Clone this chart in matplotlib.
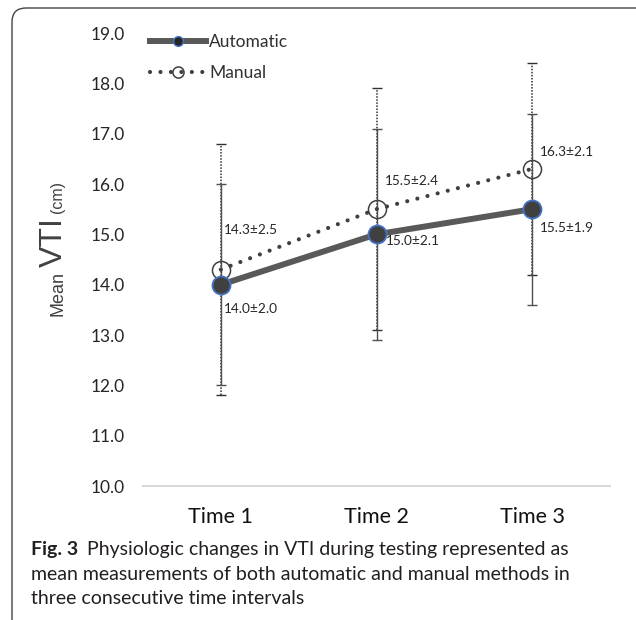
import matplotlib.pyplot as plt
from matplotlib.lines import Line2D
from matplotlib.patches import FancyBboxPatch
from matplotlib.transforms import IdentityTransform

# * - - - Data
categories = ["Time 1", "Time 2", "Time 3"]
y_ticks = [10.0, 11.0, 12.0, 13.0, 14.0, 15.0, 16.0, 17.0, 18.0, 19.0]

auto_mean = [14.0, 15.0, 15.5]
auto_sd = [2.0, 2.1, 1.9]
manual_mean = [14.3, 15.5, 16.3]
manual_sd = [2.5, 2.4, 2.1]

auto_labels = ["14.0±2.0", "15.0±2.1", "15.5±1.9"]
manual_labels = ["14.3±2.5", "15.5±2.4", "16.3±2.1"]

caption_lines = [
    "Physiologic changes in VTI during testing represented as",
    "mean measurements of both automatic and manual methods in",
    "three consecutive time intervals",
]

# * - - - Styles
W, H = 636, 620
dark = "#404040"
line_grey = "#595959"
blue_edge = "#4472C4"
chart_font = "Lato"

# label offsets in pixels (dx, dy) from each point
auto_offsets = [(3, -24), (9, -7), (8, -19)]
manual_offsets = [(3, 40), (8, 28), (8, 17)]

fig = plt.figure(figsize=(W / 100, H / 100), dpi=100)
ax = fig.add_axes([143 / W, 1 - 486 / H, (610 - 143) / W, (486 - 33) / H])

x = list(range(len(categories)))

# * - - - Error bars (drawn first so they sit behind)
eb_m = ax.errorbar(x, manual_mean, yerr=manual_sd, fmt="none", ecolor="#303030",
                   elinewidth=1.1, capsize=3.5, capthick=1.0, zorder=2)
eb_m[2][0].set_linestyle((0, (1, 1)))
ax.errorbar(x, auto_mean, yerr=auto_sd, fmt="none", ecolor="#505050",
            elinewidth=1.0, capsize=3.5, capthick=1.0, zorder=2)

# * - - - Series lines
ax.plot(x, manual_mean, color=dark, linewidth=3.0, linestyle=(0, (0.01, 2.5)),
        dash_capstyle="round", marker="o", markersize=13, markerfacecolor="none",
        markeredgecolor=dark, markeredgewidth=1.1, zorder=3)
ax.plot(x, auto_mean, color=line_grey, linewidth=4.3, solid_capstyle="round",
        marker="o", markersize=13, markerfacecolor=dark,
        markeredgecolor=blue_edge, markeredgewidth=1.3, zorder=4)

# * - - - Data labels
for xi, yi, txt, off in zip(x, auto_mean, auto_labels, auto_offsets):
    ax.annotate(txt, (xi, yi), xytext=off, textcoords="offset pixels",
                ha="left", va="center", fontsize=9.8, color="#262626",
                family=chart_font, zorder=5)
for xi, yi, txt, off in zip(x, manual_mean, manual_labels, manual_offsets):
    ax.annotate(txt, (xi, yi), xytext=off, textcoords="offset pixels",
                ha="left", va="center", fontsize=9.8, color="#262626",
                family=chart_font, zorder=5)

# * - - - Axes look
ax.set_xlim(-0.5, 2.5)
ax.set_ylim(10, 19)
ax.set_yticks(y_ticks)
ax.set_yticklabels([f"{v:.1f}" for v in y_ticks], family=chart_font,
                   fontsize=12.5, color="#262626")
ax.set_xticks(x)
ax.set_xticklabels(categories, family=chart_font, fontsize=15.5, color="#111111")
ax.tick_params(axis="y", length=0, pad=13)
ax.tick_params(axis="x", length=0, pad=15)
for side in ["left", "right", "top"]:
    ax.spines[side].set_visible(False)
ax.spines["bottom"].set_color("#d9d9d9")
ax.spines["bottom"].set_linewidth(1.5)

# * - - - Legend
handles = [
    Line2D([], [], color=line_grey, linewidth=4.3, marker="o", markersize=7,
           markerfacecolor="#262626", markeredgecolor=blue_edge, markeredgewidth=1.0),
    Line2D([], [], color=dark, linewidth=3.0, linestyle=(0, (0.01, 2.5)),
           dash_capstyle="round", marker="o", markersize=8, markerfacecolor="none",
           markeredgecolor=dark, markeredgewidth=1.1),
]
ax.legend(handles, ["Automatic", "Manual"], loc="upper left",
          bbox_to_anchor=(150 / W, 1 - 34 / H), bbox_transform=fig.transFigure,
          frameon=False, borderpad=0, borderaxespad=0, handlelength=3.2,
          handletextpad=0.2, labelspacing=0.85,
          prop={"family": chart_font, "size": 12.5}, labelcolor="#303030")

# * - - - Y axis title with a bigger "VTI"
fig.canvas.draw()
r = fig.canvas.get_renderer()
base_x = 62
y0 = H - 316
parts = [("Mean", 13), ("VTI", 23), ("(cm)", 11.5)]
for word, size in parts:
    t = fig.text(base_x, y0, word, transform=IdentityTransform(), rotation=90,
                 rotation_mode="anchor", ha="left", va="baseline",
                 fontsize=size, family="Liberation Sans", color="#404040")
    bb = t.get_window_extent(r)
    y0 = bb.y1 + 4

# * - - - Caption
cap_size = 14
cap_font = "Lato"
t = fig.text(31, H - 549, "Fig. 3", transform=IdentityTransform(), ha="left",
             va="center", fontsize=cap_size, fontweight="bold",
             family=cap_font, color="#231f20")
bb = t.get_window_extent(r)
for i, line in enumerate(caption_lines):
    xpos = bb.x1 + 9 if i == 0 else 31
    fig.text(xpos, H - 549 - i * 25, line, transform=IdentityTransform(),
             ha="left", va="center", fontsize=cap_size,
             family=cap_font, color="#231f20")

# * - - - Rounded frame, partly cut by the image edge
frame = FancyBboxPatch((12, -100), 700, H - 8 + 100, boxstyle="round,pad=0,rounding_size=14",
                       transform=IdentityTransform(), facecolor="none",
                       edgecolor="#444444", linewidth=1.0)
fig.patches.append(frame)

fig.savefig("out.png", dpi=100)
